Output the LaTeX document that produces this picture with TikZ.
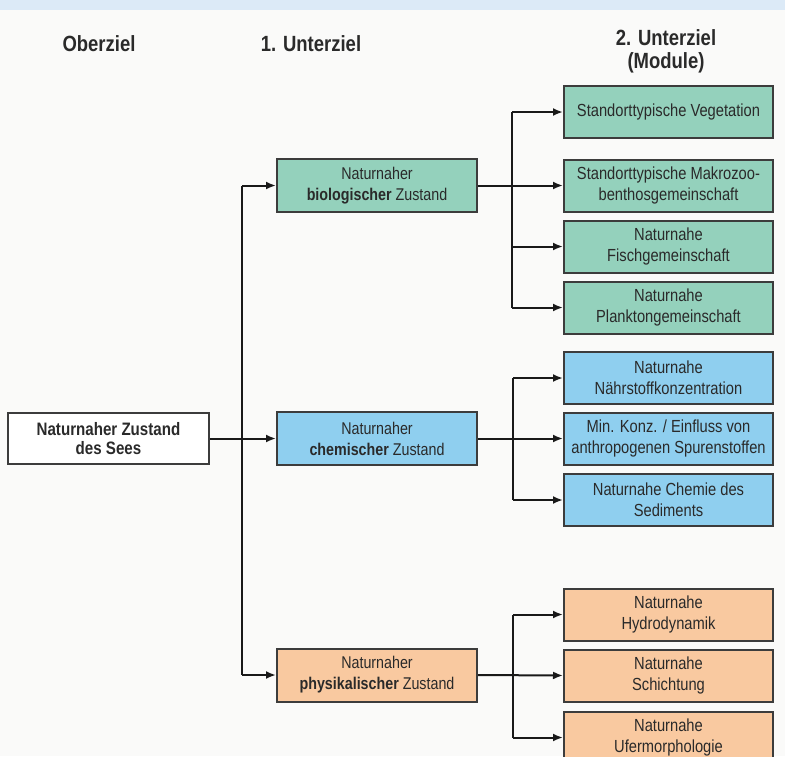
\documentclass[tikz,border=0pt]{standalone}
\usepackage{fontspec}
\setmainfont{Liberation Sans}[FakeStretch=0.84]
\usetikzlibrary{arrows.meta}
\definecolor{bgc}{HTML}{FAFAF9}
\definecolor{band}{HTML}{DCEAF7}
\definecolor{gfill}{HTML}{94D1BC}
\definecolor{bfill}{HTML}{8FCFEF}
\definecolor{ofill}{HTML}{F9C9A0}
\definecolor{edge}{HTML}{3C3C3C}
\definecolor{txt}{HTML}{2A2A2A}
\tikzset{
  box/.style={draw=edge, line width=2pt, text=txt, align=center, inner sep=0pt,
    font=\fontsize{17.5}{21}\selectfont},
  modbox/.style={box, minimum width=209pt, minimum height=52pt},
  midbox/.style={box, minimum width=200pt, minimum height=53pt,
    font=\fontsize{17}{21}\selectfont},
  rootbox/.style={box, fill=white, minimum width=201pt, minimum height=51pt,
    font=\fontsize{18}{19.5}\selectfont\bfseries},
  head/.style={text=txt, align=center, inner sep=0pt, font=\fontsize{22}{23}\selectfont\bfseries},
  conn/.style={line width=2pt, draw=black!90},
  arr/.style={conn, -{Latex[length=10pt,width=8pt]}},
}
\begin{document}
\begin{tikzpicture}[x=1pt,y=-1pt]
\clip (0,0) rectangle (785,756);
\fill[bgc] (0,0) rectangle (785,756);
\fill[band] (0,0) rectangle (785,10);

% headers
\node[head] (h1) at (99,44) {Oberziel};
\node[head] (h2) at (311,44) {1. Unterziel};
\node[head] (h3) at (666,51) {2. Unterziel\\(Module)};

% root
\node[rootbox] (root) at (108.5,438.5) {Naturnaher Zustand\\des Sees};

% level 1
\node[midbox, fill=gfill] (bio) at (377,185.5) {Naturnaher\\\textbf{biologischer} Zustand};
\node[midbox, fill=bfill] (chem) at (377,438.5) {Naturnaher\\\textbf{chemischer} Zustand};
\node[midbox, fill=ofill] (phys) at (377,675) {Naturnaher\\\textbf{physikalischer} Zustand};

% modules bio
\node[modbox, fill=gfill] (m1) at (668.5,112) {Standorttypische Vegetation};
\node[modbox, fill=gfill] (m2) at (668.5,185.5) {Standorttypische Makrozoo-\\benthosgemeinschaft};
\node[modbox, fill=gfill] (m3) at (668.5,246.5) {Naturnahe\\Fischgemeinschaft};
\node[modbox, fill=gfill] (m4) at (668.5,307.5) {Naturnahe\\Planktongemeinschaft};
% modules chem
\node[modbox, fill=bfill] (m5) at (668.5,378) {Naturnahe\\Nährstoffkonzentration};
\node[modbox, fill=bfill] (m6) at (668.5,438.5) {Min. Konz. / Einfluss von\\anthropogenen Spurenstoffen};
\node[modbox, fill=bfill] (m7) at (668.5,500) {Naturnahe Chemie des\\Sediments};
% modules phys
\node[modbox, fill=ofill] (m8) at (668.5,614.5) {Naturnahe\\Hydrodynamik};
\node[modbox, fill=ofill] (m9) at (668.5,675.5) {Naturnahe\\Schichtung};
\node[modbox, fill=ofill] (m10) at (668.5,737.5) {Naturnahe\\Ufermorphologie};

% junction coordinates
\coordinate (j0) at (242,0);
\coordinate (jb) at (512,0);
\coordinate (jc) at (513,0);
\coordinate (jp) at (513,0);

% root level
\draw[arr] (root.east) -- (chem.west);
\draw[conn] (j0 |- bio.west) -- (j0 |- phys.west);
\draw[arr] (j0 |- bio.west) -- (bio.west);
\draw[arr] (j0 |- phys.west) -- (phys.west);

% bio level
\draw[arr] (bio.east) -- (m2.west);
\draw[conn] (jb |- m1.west) -- (jb |- m4.west);
\draw[arr] (jb |- m1.west) -- (m1.west);
\draw[arr] (jb |- m3.west) -- (m3.west);
\draw[arr] (jb |- m4.west) -- (m4.west);

% chem level
\draw[arr] (chem.east) -- (m6.west);
\draw[conn] (jc |- m5.west) -- (jc |- m7.west);
\draw[arr] (jc |- m5.west) -- (m5.west);
\draw[arr] (jc |- m7.west) -- (m7.west);

% phys level
\draw[arr] (phys.east) -- (m9.west);
\draw[conn] (jp |- m8.west) -- (jp |- m10.west);
\draw[arr] (jp |- m8.west) -- (m8.west);
\draw[arr] (jp |- m10.west) -- (m10.west);
\end{tikzpicture}
\end{document}
